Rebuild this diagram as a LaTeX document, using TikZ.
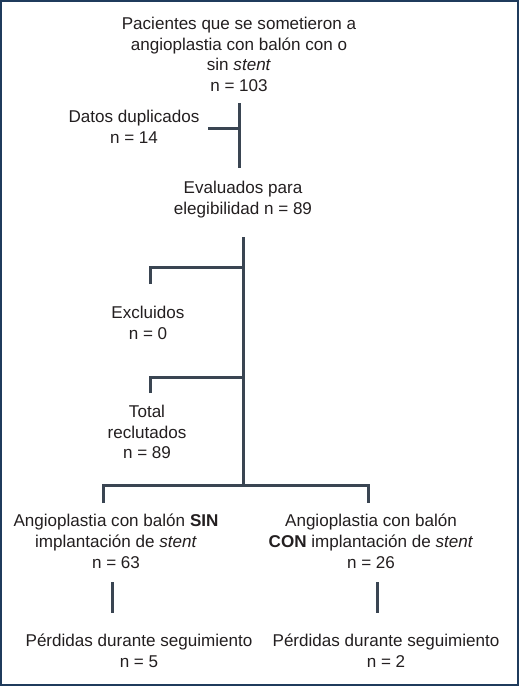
\documentclass[tikz,border=0pt]{standalone}
\usepackage{fontspec}
\setmainfont{Liberation Sans}
\definecolor{linegray}{HTML}{3A4552}
\definecolor{frameblue}{HTML}{1F3B5C}
\definecolor{textgray}{HTML}{231F20}
\tikzset{
  txt/.style={align=center, inner sep=0pt, anchor=north, text=textgray,
    font=\fontsize{12.8}{15.5}\selectfont},
  ln/.style={linegray, line width=2.25pt},
}

\begin{document}
\begin{tikzpicture}[x=0.75pt,y=-0.75pt]

\useasboundingbox (0,0) rectangle (519,686);
\fill [white] (0,0) rectangle (519,686);
\draw [frameblue, line width=1.5pt] (1,1) rectangle (518,685);

% boxes of text
\node [txt] (pac) at (239,17) {Pacientes que se sometieron a\\angioplastia con bal\'on con o\\sin \textit{stent}\\n = 103};
\node [txt] (dup) at (134,110) {Datos duplicados\\n = 14};
\node [txt] (eval) at (243,181) {Evaluados para\\elegibilidad n = 89};
\node [txt] (excl) at (148,306) {Excluidos\\n = 0};
\node [txt] (total) at (147,405) {Total\\reclutados\\n = 89};
\node [txt] (sin) at (116,514) {Angioplastia con bal\'on \textbf{SIN}\\implantaci\'on de \textit{stent}\\n = 63};
\node [txt] (con) at (371,514) {Angioplastia con bal\'on\\\textbf{CON} implantaci\'on de \textit{stent}\\n = 26};
\node [txt] (perdsin) at (139,634) {P\'erdidas durante seguimiento\\n = 5};
\node [txt] (perdcon) at (386,634) {P\'erdidas durante seguimiento\\n = 2};

% junction points
\coordinate (pacdown) at (239,103);
\coordinate (evalup) at (239,168);
\coordinate (dupjoin) at (239,128);
\coordinate (dupend) at (208,128);

\coordinate (evaldown) at (243,237);
\coordinate (split) at (243,485);
\coordinate (exclend) at (150,284);
\coordinate (excljoin) at (243,267);
\coordinate (totalend) at (150,393);
\coordinate (totaljoin) at (243,377);

\coordinate (sinup) at (103,503);
\coordinate (conup) at (368,503);

\coordinate (sindown) at (112,582);
\coordinate (perdsinup) at (112,613);
\coordinate (condown) at (377,582);
\coordinate (perdconup) at (377,613);

% connectors
\draw [ln] (pacdown) -- (evalup);
\draw [ln] (dupend) -- (dupjoin);

\draw [ln] (evaldown) -- (split);
\draw [ln] (exclend) |- (excljoin);
\draw [ln] (totalend) |- (totaljoin);

\draw [ln] (sinup) |- (split) -| (conup);

\draw [ln] (sindown) -- (perdsinup);
\draw [ln] (condown) -- (perdconup);

\end{tikzpicture}
\end{document}
